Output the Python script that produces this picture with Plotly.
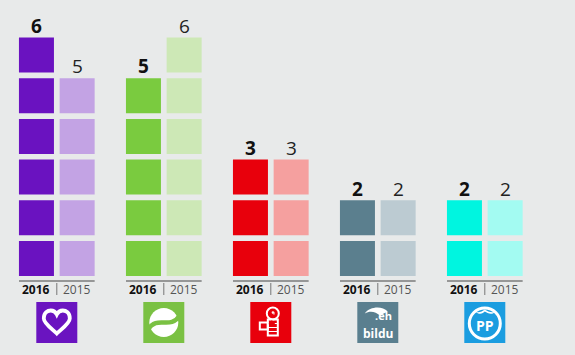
import plotly.graph_objects as go

# ---------------- data ----------------
parties = ["Unidos Podemos", "PNV", "PSOE", "EH Bildu", "PP"]
years = ["2016", "2015"]
seats_2016 = [6, 5, 3, 2, 2]
seats_2015 = [5, 6, 3, 2, 2]
colors_2016 = ["#6a12c0", "#7acb3f", "#e8000c", "#5b7f8e", "#00f5e0"]
colors_2015 = ["#c3a3e4", "#cde8b6", "#f5a09f", "#bccbd2", "#a3fbf2"]
logo_colors = ["#6a14c0", "#7ac143", "#e8000c", "#5a7f8f", "#1b9de0"]

# ---------------- layout geometry (pixels) ----------------
W, H = 575, 355
BG = "#e8eaea"
GROUP_PX = 107.0        # distance between party groups
FIRST_CENTER_PX = 56.8  # centre of first group
STEP_PX = 40.7          # square pitch
SQ = 35                 # square side
BASE_PX = 258.5         # centre of bottom square


def ypx(p):
    return 1 + (BASE_PX - p) / STEP_PX


OFF = (STEP_PX / 2) / GROUP_PX
HALF = OFF + (SQ / 2) / GROUP_PX

fig = go.Figure()
shapes = []
annotations = []

for i, party in enumerate(parties):
    for j, (seats, col) in enumerate([(seats_2016[i], colors_2016[i]),
                                      (seats_2015[i], colors_2015[i])]):
        xc = i - OFF if j == 0 else i + OFF
        fig.add_trace(go.Scatter(
            x=[xc] * seats, y=list(range(1, seats + 1)), mode="markers",
            marker=dict(symbol="square", size=SQ, color=col, line=dict(width=0)),
            name=f"{party} {years[j]}", hoverinfo="name"))
        annotations.append(dict(
            x=xc, y=seats + 0.72, text=str(seats), showarrow=False,
            xanchor="center", yanchor="middle",
            font=dict(family="Open Sans", size=19,
                      color="#111" if j == 0 else "#222",
                      weight="bold" if j == 0 else "normal")))
        annotations.append(dict(
            x=xc, y=ypx(289), text=years[j], showarrow=False,
            xanchor="center", yanchor="middle",
            font=dict(family="Open Sans", size=12,
                      color="#111" if j == 0 else "#555",
                      weight="bold" if j == 0 else "normal")))
    # base line and divider
    shapes.append(dict(type="line", x0=i - HALF, x1=i + HALF, y0=ypx(281), y1=ypx(281),
                       line=dict(color="#444", width=1.2)))
    shapes.append(dict(type="line", x0=i, x1=i, y0=ypx(283), y1=ypx(295),
                       line=dict(color="#777", width=1)))
    # logo square
    ly = ypx(322.5)
    shapes.append(dict(type="rect", xsizemode="pixel", ysizemode="pixel",
                       xanchor=i, yanchor=ly, x0=-20.5, x1=20.5, y0=-20.5, y1=20.5,
                       fillcolor=logo_colors[i], line=dict(width=0)))


def pshape(i, path, fill=None, stroke=None, width=0):
    d = dict(type="path", xsizemode="pixel", ysizemode="pixel",
             xanchor=i, yanchor=ypx(322.5), path=path,
             fillcolor=fill if fill else "rgba(0,0,0,0)",
             line=dict(color=stroke if stroke else "rgba(0,0,0,0)", width=width))
    shapes.append(d)


def circle(cx, cy, r):
    k = 0.5523 * r
    return (f"M {cx+r},{cy} C {cx+r},{cy+k} {cx+k},{cy+r} {cx},{cy+r} "
            f"C {cx-k},{cy+r} {cx-r},{cy+k} {cx-r},{cy} "
            f"C {cx-r},{cy-k} {cx-k},{cy-r} {cx},{cy-r} "
            f"C {cx+k},{cy-r} {cx+r},{cy-k} {cx+r},{cy} Z")


# logo 0: heart
pshape(0, "M 0,-11 C -4,-7 -13,-1 -13,4 C -13,10 -9,12 -6,12 C -3,12 -1,10 0,8 "
          "C 1,10 3,12 6,12 C 9,12 13,10 13,4 C 13,-1 4,-7 0,-11 Z",
       stroke="white", width=3.8)
# logo 1: swirl
pshape(1, circle(0, 0, 14.5), fill="white")
pshape(1, "M -16,-7 C -6,8 6,-8 16,7", stroke=logo_colors[1], width=4.5)
# logo 2: fist and rose
pshape(2, circle(2, 9, 6), stroke="white", width=2)
pshape(2, "M 2,9 C 0,11 4,12 3,8", stroke="white", width=1.2)
pshape(2, "M -3,3 L -3,-13 L 7,-13 L 7,3 Z", stroke="white", width=2)
pshape(2, "M -3,-1 L 7,-1 M -3,-5 L 7,-5 M -3,-9 L 7,-9", stroke="white", width=1)
pshape(2, "M -11,0 L -3,0 L -3,-7 L -11,-7 Z", stroke="white", width=2)
pshape(2, "M -2,-1 L 4,-1 M 1,2 L 1,-4", stroke=logo_colors[2], width=1.5)
# logo 3: eh bildu
pshape(3, "M -13,9 C -8,16 4,17 10,11 L 2,7 C -2,11 -8,12 -13,9 Z", fill="white")
annotations.append(dict(x=3, y=ypx(315.5), text="<b>.eh</b>", showarrow=False,
                        xanchor="center", yanchor="middle", xshift=6,
                        font=dict(family="Open Sans", size=11, color="white")))
annotations.append(dict(x=3, y=ypx(333), text="<b>bildu</b>", showarrow=False,
                        xanchor="center", yanchor="middle",
                        font=dict(family="Open Sans", size=12, color="white")))
# logo 4: PP
pshape(4, circle(0, -1, 15.5), stroke="white", width=3)
pshape(4, "M -10,11 C -5,7 -2,9 0,11 C 3,9 7,7 11,11 C 7,9 3,11 0,13 C -3,11 -6,9 -10,11 Z",
       fill="white")
annotations.append(dict(x=4, y=ypx(325), text="<b>PP</b>", showarrow=False,
                        xanchor="center", yanchor="middle",
                        font=dict(family="Open Sans", size=14, color="white")))

fig.update_layout(
    width=W, height=H, margin=dict(l=0, r=0, t=0, b=0),
    paper_bgcolor=BG, plot_bgcolor=BG, showlegend=False,
    xaxis=dict(range=[-FIRST_CENTER_PX / GROUP_PX, (W - FIRST_CENTER_PX) / GROUP_PX],
               visible=False, fixedrange=True),
    yaxis=dict(range=[ypx(H), ypx(0)], visible=False, fixedrange=True),
    shapes=shapes, annotations=annotations,
)

fig.write_html("out.html")
